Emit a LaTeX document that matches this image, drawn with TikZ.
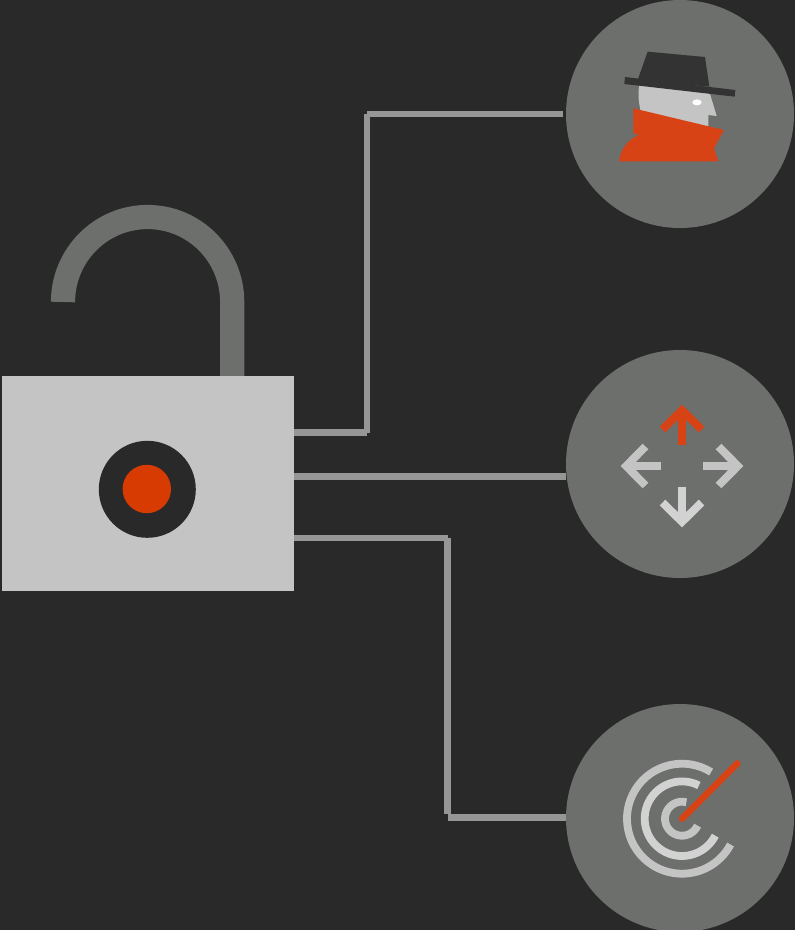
\documentclass[tikz,border=0pt]{standalone}
\usepackage{xcolor}
\usepackage{tikz}
\usetikzlibrary{positioning,calc}

\definecolor{bgdark}{HTML}{292929}
\definecolor{slate}{HTML}{6D6F6C}
\definecolor{steel}{HTML}{969696}
\definecolor{pale}{HTML}{C4C4C4}
\definecolor{paler}{HTML}{D2D2D2}
\definecolor{keyred}{HTML}{D83B01}
\definecolor{spyred}{HTML}{D84316}
\definecolor{hatdark}{HTML}{333333}

\begin{document}
\begin{tikzpicture}[
  x=1pt,y=-1pt,
  badge/.style={circle,fill=slate,minimum size=228pt,inner sep=0pt},
  wire/.style={draw=steel,line width=6.4pt},
  ring/.style={line width=7.8pt},
  mover/.style={line width=8pt,miter limit=10}
]
  \useasboundingbox (0,0) rectangle (795,930);
  \fill[bgdark] (0,0) rectangle (795,930);

  \node[badge] (spy)    at (680,114) {};
  \node[badge] (move)   at (680,464) {};
  \node[badge] (target) at (680,818) {};

  % Padlock
  \node[fill=pale,minimum width=292pt,minimum height=215pt,inner sep=0pt] (lock) at (148,483.5) {};
  \node[circle,fill=bgdark,minimum size=97pt,inner sep=0pt] (keyhole) at (147.3,489.3) {};
  \node[circle,fill=keyred,minimum size=48.4pt,inner sep=0pt] (keydot) at (146.8,489) {};
  \coordinate (hasp) at (232.2,302);
  \draw[slate,line width=24.2pt] (63,302) arc[start angle=180,end angle=360,x radius=84.6,y radius=85] -- (hasp |- lock.north);

  % Connectors
  \coordinate (upa) at (367,432.3);
  \coordinate (upb) at (367,114);
  \coordinate (mid) at (430,476.5);
  \coordinate (lowa) at (447.5,538);
  \coordinate (lowb) at (447.5,814);
  \coordinate (lowc) at (447.5,817.5);
  \draw[wire] (lock.east |- upa) -- (upa);
  \draw[wire] ($(upa)+(0,0.4)$) -- (upb);
  \draw[wire,shorten >=3pt] (upb) -- (spy.west);
  \draw[wire] (lock.east |- mid) -- (move.west |- mid);
  \draw[wire] (lock.east |- lowa) -- (lowa);
  \draw[wire] ($(lowa)+(0,-0.3)$) -- (lowb);
  \draw[wire] (lowc) -- (target.west |- lowc);

  % Spy, traced at 3 units per pixel
  \begin{scope}[shift={(600,30)},x=1pt/3,y=-1pt/3]
    \fill[pale] (118,166) .. controls (113,190) and (116,215) .. (122,245) -- (325,295) -- (325,255)
      -- (350,258) -- (328,185) -- cycle;
    \fill[white] (291,217) ellipse[x radius=14,y radius=9];
    \fill[hatdark] (143,65) -- (315,81) -- (328,170) -- (113,150) -- cycle;
    \fill[hatdark] (75,141) -- (406,180) -- (404,200) -- (73,162) -- cycle;
    \fill[spyred] (100,235) -- (372,300) -- (342,355) -- (355,394) -- (57,394)
      .. controls (62,355) and (85,330) .. (115,315) -- (160,322) -- (100,311) -- cycle;
  \end{scope}

  % Arrows
  \begin{scope}[shift={(682,466)}]
    \foreach \ang/\col in {0/spyred,90/pale,180/paler,270/pale}{
      \begin{scope}[rotate=\ang]
        \draw[\col,mover] (0,-21) -- (0,-50);
        \draw[\col,mover] (-19.5,-36.5) -- (0,-55.8) -- (19.5,-36.5);
      \end{scope}
    }
  \end{scope}

  % Rings and needle
  \begin{scope}[shift={(682,818.7)}]
    \draw[pale,ring]  (-58:55)   arc[start angle=-58,end angle=-332,radius=55];
    \draw[paler,ring] (-63:37.3) arc[start angle=-63,end angle=-333,radius=37.3];
    \draw[pale,ring]  (-75:17)   arc[start angle=-75,end angle=-336,radius=17];
    \draw[spyred,line width=6.5pt,line cap=round] (0,0) -- (55.3,-55.3);
  \end{scope}
\end{tikzpicture}
\end{document}
